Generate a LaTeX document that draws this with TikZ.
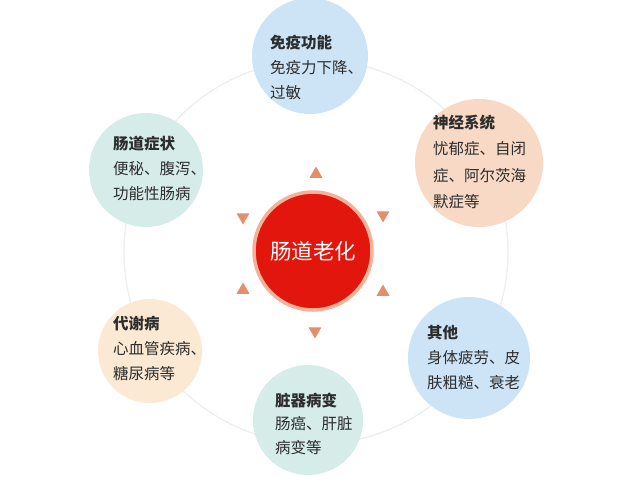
\documentclass[tikz,border=0pt]{standalone}
\usepackage{fontspec}
\newfontfamily\cjk{Noto Sans CJK SC}
\usetikzlibrary{shapes.geometric}
\definecolor{bluec}{RGB}{205,228,246}
\definecolor{peachc}{RGB}{247,217,197}
\definecolor{mintc}{RGB}{214,236,232}
\definecolor{creamc}{RGB}{251,233,212}
\definecolor{redc}{RGB}{226,22,12}
\definecolor{redborder}{RGB}{245,178,155}
\definecolor{tric}{RGB}{228,142,108}
\definecolor{ringc}{RGB}{238,238,238}
\definecolor{txt}{RGB}{45,45,45}
\begin{document}
\begin{tikzpicture}[x=1pt,y=-1pt,
  bubble/.style={circle,inner sep=0pt,draw=none,minimum size=#1},
  bodytext/.style={anchor=west,align=left,inner sep=0pt,text=txt,
    font=\cjk\fontsize{15.5}{25}\selectfont},
  tri/.style={regular polygon,regular polygon sides=3,fill=tric,
    inner sep=0pt,minimum size=15pt,draw=none}]
\fill[white] (0,0) rectangle (640,483);
\useasboundingbox (0,0) rectangle (640,483);
% faint ring
\draw[ringc,line width=1.3pt] (316,252) circle[radius=192];
% centre
\node[circle,fill=redc,draw=redborder,line width=3.5pt,minimum size=118pt,
  inner sep=0pt,text=white,font=\cjk\fontsize{21.5}{26}\selectfont] (core) at (313,251) {肠道老化};
% triangles
\node[tri] (t1) at (316,174) {};
\node[tri,rotate=180] (t2) at (383,215) {};
\node[tri] (t3) at (383,292) {};
\node[tri,rotate=180] (t4) at (315,331) {};
\node[tri] (t5) at (243,290) {};
\node[tri,rotate=180] (t6) at (243,217) {};
% satellites
\node[bubble=116pt,fill=bluec] (imm) at (310,56) {};
\node[bubble=128pt,fill=peachc] (neu) at (479,163) {};
\node[bubble=122pt,fill=bluec] (oth) at (469,358) {};
\node[bubble=110pt,fill=mintc] (org) at (308,420) {};
\node[bubble=104pt,fill=creamc] (met) at (150,351) {};
\node[bubble=114pt,fill=mintc] (gut) at (146,170) {};
% texts
\node[bodytext] (immt) at (270,67.5) {{\bfseries 免疫功能}\\免疫力下降、\\过敏};
\node[bodytext,font=\cjk\fontsize{15.5}{26.5}\selectfont] (neut) at (433,162) {{\bfseries 神经系统}\\忧郁症、自闭\\症、阿尔茨海\\默症等};
\node[bodytext] (otht) at (427,357.5) {{\bfseries 其他}\\身体疲劳、皮\\肤粗糙、衰老};
\node[bodytext,font=\cjk\fontsize{15.5}{23.5}\selectfont] (orgt) at (275,423.5) {{\bfseries 脏器病变}\\肠癌、肝脏\\病变等};
\node[bodytext] (mett) at (113,348) {{\bfseries 代谢病}\\心血管疾病、\\糖尿病等};
\node[bodytext] (gutt) at (113,168) {{\bfseries 肠道症状}\\便秘、腹泻、\\功能性肠病};
\end{tikzpicture}
\end{document}
